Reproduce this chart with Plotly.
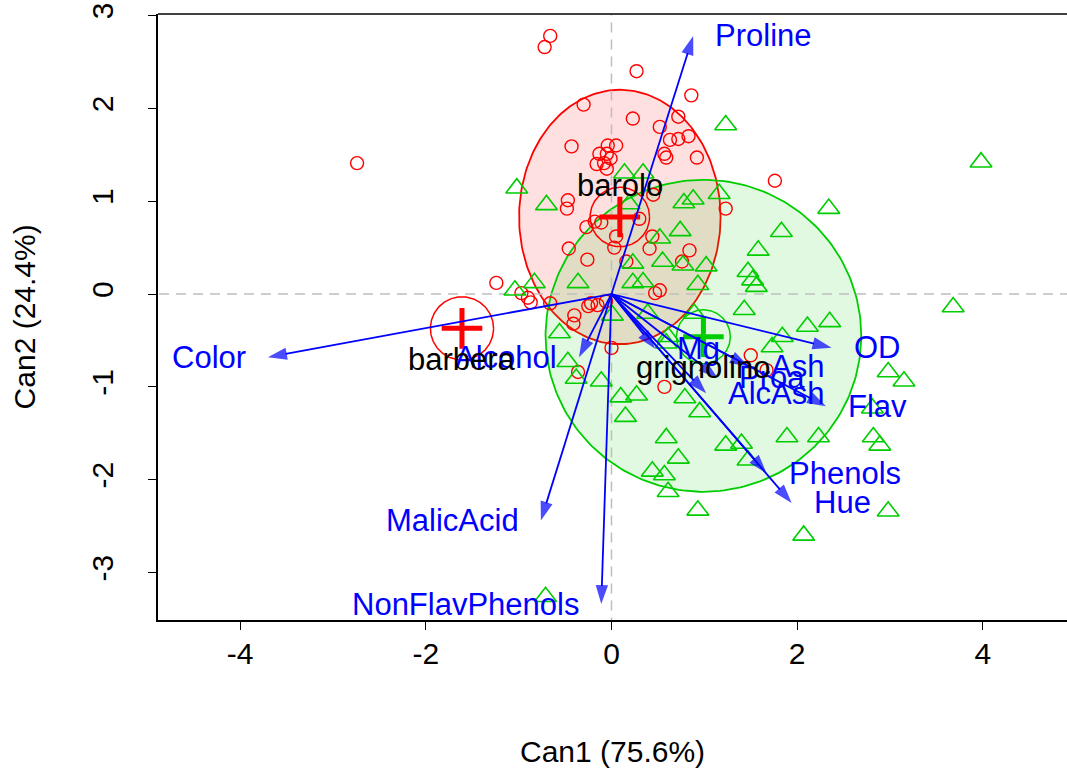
import numpy as np
import plotly.graph_objects as go

# ---------------- data ----------------
barolo_x = [-0.66, -0.72, 0.27, 0.86, -0.30, 0.23, 0.72, 0.52, 0.63, 0.72, 0.83, 0.57, 0.59, 0.92,
            -0.43, -0.04, 0.05, -0.13, -0.05, -0.01, -0.16, -0.08, -0.05, 1.76, -0.47, -0.48, 1.23,
            0.45, 0.05, 0.30, -0.27, -0.18, -0.11, 0.44, 0.84, 0.76, -0.46, -0.26, 0.03, 0.16, 0.41,
            0.47, -1.24, -0.97, -0.90, -0.87, -0.66, -0.22, -0.15, -0.06, -0.40, -0.25, -0.36, 0.00,
            0.52, 0.57, 1.50, 1.67, -2.74, -0.41]
barolo_y = [2.78, 2.66, 2.40, 2.14, 2.04, 1.89, 1.91, 1.80, 1.66, 1.67, 1.70, 1.51, 1.47, 1.47,
            1.59, 1.60, 1.60, 1.51, 1.51, 1.46, 1.40, 1.41, 1.35, 1.22, 1.01, 0.92, 0.92,
            1.07, 0.62, 0.81, 0.72, 0.78, 0.77, 0.62, 0.47, 0.35, 0.49, 0.37, 0.50, 0.35, 0.49,
            0.01, 0.12, 0.01, -0.04, -0.09, -0.10, -0.10, -0.12, -0.08, -0.23, -0.13, -0.84, -0.58,
            0.04, -1.00, -0.66, -0.82, 1.41, -0.32]

grig_x = [1.23, -1.02, -0.70, 0.14, 0.34, 1.16, 0.78, 0.88, 0.19, 0.74, 0.52, 1.58, 0.23, 0.55,
          0.77, 1.02, 1.47, 1.52, 1.56, -0.36, -0.83, -1.04, 0.23, 0.34, 0.93, 1.43, 1.83, 3.98,
          2.34, 3.68, 2.11, 2.35, 1.84, 1.73, 2.98, 3.15, 2.81, 1.89, 2.23, 2.82, 2.89, 2.98, 2.07,
          0.89, 0.59, 0.79, 0.95, 0.01, 0.39, -0.56, 0.61, -0.47, -0.38, -0.11, 0.10, 0.27, 0.15,
          0.59, 0.72, 1.23, 1.40, 0.44, 0.57, 0.61, 0.93, 1.47, -0.71]
grig_y = [1.82, 1.14, 0.96, 1.30, 1.30, 1.08, 0.98, 1.02, 0.97, 0.68, 0.60, 0.47, 0.33, 0.35,
          0.31, 0.30, 0.24, 0.15, 0.08, 0.12, 0.12, 0.04, 0.12, 0.13, 0.10, -0.17, 0.67, 1.42,
          0.92, -0.14, -0.35, -0.30, -0.46, -0.57, -0.84, -0.94, -1.23, -1.54, -1.54, -1.54, -1.63,
          -2.34, -2.60, -0.21, -0.53, -1.12, -1.27, -0.23, -0.21, -0.42, -0.46, -0.73, -0.91, -0.94,
          -1.11, -1.09, -1.32, -1.55, -1.77, -1.63, -1.61, -1.91, -1.95, -2.13, -2.33, -1.79, -3.26]

groups = ["barolo", "grignolino", "barbera"]
group_cx = [0.09, 0.99, -1.61]
group_cy = [0.83, -0.46, -0.37]
group_circle_r = [0.32, 0.29, 0.34]
group_label_dir = [1, -1, -1]

# data ellipses (center x, center y, semi-axis x, semi-axis y)
ell_cx = [0.09, 0.99]
ell_cy = [0.83, -0.45]
ell_ax = [1.085, 1.70]
ell_ay = [1.37, 1.68]

vec_names = ["Proline", "Color", "Alcohol", "MalicAcid", "NonFlavPhenols", "Mg", "Ash",
             "Proa", "AlcAsh", "OD", "Flav", "Phenols", "Hue"]
vec_x = [0.88, -3.70, -0.35, -0.76, -0.11, 0.47, 1.48, 1.14, 1.02, 2.37, 2.31, 1.67, 1.94]
vec_y = [2.78, -0.68, -0.68, -2.44, -3.34, -0.59, -0.78, -0.90, -1.07, -0.58, -1.21, -1.93, -2.25]

xticks = [-4, -2, 0, 2, 4]
xticklabels = ["-4", "-2", "0", "2", "4"]
yticks = [-3, -2, -1, 0, 1, 2, 3]
yticklabels = ["-3", "-2", "-1", "0", "1", "2", "3"]

# ---------------- styling ----------------
RED = "#FF0000"
GREEN = "#00CD00"
BLUE = "#0000FF"
FONT = "Liberation Sans, Arial, sans-serif"
fill_cols = ["rgba(255,0,0,0.12)", "rgba(0,205,0,0.12)"]
line_cols = [RED, GREEN]
grp_cols = [RED, GREEN, RED]

fig = go.Figure()
t = np.linspace(0, 2 * np.pi, 241)

for i in range(2):
    fig.add_trace(go.Scatter(
        x=ell_cx[i] + ell_ax[i] * np.cos(t), y=ell_cy[i] + ell_ay[i] * np.sin(t),
        mode="lines", fill="toself", fillcolor=fill_cols[i],
        line=dict(color=line_cols[i], width=1.8), hoverinfo="skip", showlegend=False))

# reference dashed lines
fig.add_trace(go.Scatter(x=[-10, 10], y=[0, 0], mode="lines",
                         line=dict(color="#BEBEBE", width=1.5, dash="10px,7px"),
                         showlegend=False, hoverinfo="skip"))
fig.add_trace(go.Scatter(x=[0, 0], y=[-10, 10], mode="lines",
                         line=dict(color="#BEBEBE", width=1.5, dash="10px,7px"),
                         showlegend=False, hoverinfo="skip"))

fig.add_trace(go.Scatter(x=barolo_x, y=barolo_y, mode="markers",
                         marker=dict(symbol="circle-open", size=13, color=RED, line=dict(width=1.4)),
                         showlegend=False))
fig.add_trace(go.Scatter(x=grig_x, y=grig_y, mode="markers",
                         marker=dict(symbol="triangle-up-open", size=19, color=GREEN,
                                     line=dict(width=1.6)),
                         showlegend=False))

# centroid circles and plus signs
for i in range(3):
    fig.add_trace(go.Scatter(
        x=group_cx[i] + group_circle_r[i] * np.cos(t), y=group_cy[i] + group_circle_r[i] * np.sin(t),
        mode="lines", line=dict(color=grp_cols[i], width=1.5), hoverinfo="skip", showlegend=False))
fig.add_trace(go.Scatter(x=group_cx, y=group_cy, mode="markers",
                         marker=dict(symbol="cross-thin-open", size=29, color=grp_cols,
                                     line=dict(width=5, color=grp_cols)),
                         showlegend=False))

# vectors
for i in range(len(vec_names)):
    fig.add_trace(go.Scatter(
        x=[0, vec_x[i]], y=[0, vec_y[i]], mode="lines+markers",
        line=dict(color=BLUE, width=1.8),
        marker=dict(symbol="arrow", size=[0, 20], angleref="previous", color=BLUE,
                    line=dict(width=0)),
        hoverinfo="skip", showlegend=False))
    right = vec_x[i] >= 0
    fig.add_annotation(x=vec_x[i], y=vec_y[i], text=vec_names[i], showarrow=False,
                       xanchor="left" if right else "right", yanchor="middle",
                       xshift=20 if right else -20,
                       font=dict(family=FONT, size=31, color=BLUE))

for i in range(3):
    fig.add_annotation(x=group_cx[i], y=group_cy[i], text=groups[i], showarrow=False,
                       xanchor="center", yanchor="middle", yshift=31 * group_label_dir[i],
                       font=dict(family=FONT, size=31, color="black"))

# axis titles
fig.add_annotation(xref="paper", yref="paper", x=0.5, y=-0.2178, text="Can1 (75.6%)",
                   showarrow=False, xanchor="center", yanchor="middle",
                   font=dict(family=FONT, size=30, color="black"))
fig.add_annotation(xref="paper", yref="paper", x=-0.147, y=0.5, text="Can2 (24.4%)",
                   textangle=-90, showarrow=False, xanchor="center", yanchor="middle",
                   font=dict(family=FONT, size=30, color="black"))

# top border of the plot box
fig.add_shape(type="line", xref="paper", yref="paper", x0=0, x1=1, y0=1, y1=1,
              line=dict(color="black", width=1.6))

fig.update_layout(
    width=1067, height=774,
    margin=dict(l=158, r=0, t=14, b=154),
    paper_bgcolor="white", plot_bgcolor="white",
    font=dict(family=FONT, color="black"),
    xaxis=dict(range=[-4.884, 4.906], tickvals=xticks, ticktext=xticklabels,
               ticks="outside", ticklen=8,
               tickwidth=1.3, tickcolor="black", showline=True, linecolor="black",
               linewidth=1.6, showgrid=False, zeroline=False,
               tickfont=dict(size=30, family=FONT), ticklabelstandoff=-2),
    yaxis=dict(range=[-3.511, 3.016], tickvals=yticks, ticktext=yticklabels,
               ticks="outside", ticklen=8,
               tickwidth=1.3, tickcolor="black", showline=True, linecolor="black",
               linewidth=1.6, showgrid=False, zeroline=False, tickangle=-90,
               tickfont=dict(size=30, family=FONT), ticklabelstandoff=23),
)

fig.write_html("out.html")
